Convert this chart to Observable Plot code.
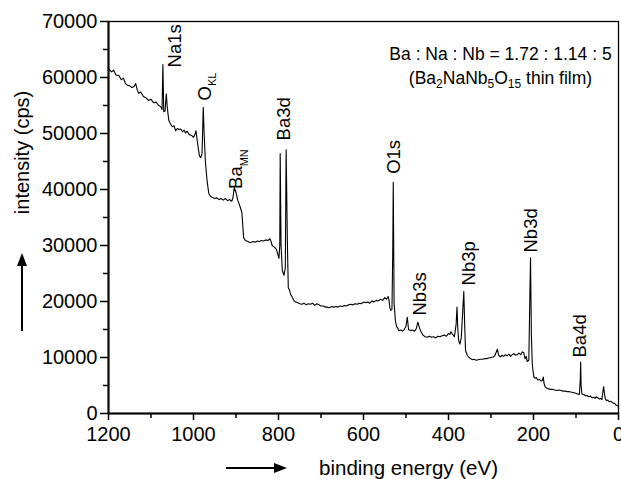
<!DOCTYPE html>
<html><head><meta charset="utf-8">
<script src="https://cdn.jsdelivr.net/npm/d3@7"></script>
<script src="https://cdn.jsdelivr.net/npm/@observablehq/plot@0.6"></script>
<style>
body{margin:0;background:#fff;}
#chart svg{display:block;}
</style>
</head><body><div id="chart"></div>
<script>
// XPS survey spectrum: binding energy (eV) and intensity (cps)
const energy = [1200,1193,1188,1182,1176,1170,1165,1160,1155,1150,1145,1140,1136,1132,1129,1124,1118,1112,1106,1100,1094,1088,1082,1077,1074,1072,1070,1067,1064,1062,1060,1058,1054,1050,1046,1042,1038,1034,1030,1026,1022,1019,1015,1010,1005,1000,996,994,990,986,983,980,977,975,972,968,964,960,956,950,945,940,935,930,925,920,915,910,907,904,900,896,892,889,886,884,882,878,872,866,860,855,850,845,840,835,830,825,820,817,815,810,805,802,799,797,796,794,791,787,784,782,779,777,774,772,768,764,760,755,750,745,740,735,730,725,720,715,710,705,700,695,690,685,680,675,670,665,660,655,650,645,640,635,630,625,620,615,610,605,600,595,590,585,580,576,570,565,560,555,550,546,542,540,538,536,533,531,530,528,526,525,522,519,517,512,508,505,500,497,494,490,485,480,476,472,468,464,460,455,450,445,440,435,430,425,420,415,410,405,400,397,394,391,388,386,382,380,378,376,373,370,366,364,362,360,356,352,348,344,340,335,330,325,320,315,310,305,300,295,291,288,285,282,278,274,270,266,262,258,254,250,246,242,238,234,230,226,223,220,217,215,211,209,207,205,203,201,199,196,193,190,186,182,179,177,175,172,168,164,160,155,150,145,140,135,130,125,120,115,110,105,100,96,92,90,89,88,86,82,78,74,70,66,62,58,55,52,49,45,42,39,37,35,33,31,28,25,22,18,15,12,9,6,3,0];
const intensity = [61600,61000,61300,60400,60400,59600,59900,58900,58600,58500,58200,58400,58900,57700,57200,57400,56600,56400,55900,56100,55500,55600,55000,54800,54300,62300,53900,54000,57100,55000,53500,52300,51700,51200,51400,50500,50900,50700,50800,50300,50600,50100,50400,49800,49700,49300,50000,50500,48000,46000,45700,46400,54700,50000,45000,41500,39300,38800,38600,38400,38500,38200,38400,38100,38400,38000,38200,37900,38600,40300,39500,38100,37300,36600,35800,33500,31400,30900,30700,30500,30700,30600,30800,30700,30900,30800,31000,30900,31200,30600,30000,29700,29300,28600,27700,30000,46400,30000,25500,24700,26000,47100,30000,22500,22000,21400,20800,20200,19900,19800,19600,19500,19700,19400,19600,19500,19700,19300,19600,19400,19200,19200,19000,19000,18900,19100,19000,19100,19000,19200,19100,19300,19200,19400,19500,19400,19600,19500,19700,19600,19900,19800,19900,19700,20100,19900,20200,20100,20400,20200,20700,20400,20900,20200,18900,18400,18600,30000,41300,19700,17700,16600,15500,15200,14800,14900,14700,14900,15600,17200,15000,14800,14900,14700,15100,16300,15200,14500,14000,13700,13600,13800,13600,13700,13500,13800,13700,13900,14000,13800,14300,14100,14600,14200,13900,13700,16000,19000,15000,13000,12400,13500,19000,21800,16000,11300,10400,10000,9800,9600,9700,9500,9600,9700,9700,9800,9800,9900,10000,10100,10300,10900,11500,10400,10100,10400,10200,10500,10300,10600,10200,10500,10700,10400,10500,10800,10500,11000,10900,9800,10200,9300,9500,19000,27800,14000,9000,7500,6500,6300,6400,6000,6100,5800,5900,6500,5300,4700,4500,4400,4300,4300,4200,4100,4200,4100,4000,4000,3900,3900,3800,3700,3600,3500,3400,6000,9200,5000,3500,3400,3200,3200,3000,3100,2800,2900,2700,3000,2800,2600,2700,2500,3800,4800,3500,2600,2300,2400,2100,2200,2000,1800,1800,1500,1400,1300];

const xTicks = [1200, 1000, 800, 600, 400, 200, 0];
const xMinorTicks = [1100, 900, 700, 500, 300, 100];
const yTicks = [0, 10000, 20000, 30000, 40000, 50000, 60000, 70000];
const yMinorTicks = [5000, 15000, 25000, 35000, 45000, 55000, 65000];

const peakNames = ["Na1s", "O", "Ba", "Ba3d", "O1s", "Nb3s", "Nb3p", "Nb3d", "Ba4d"];
const peakSubs  = ["", "KL", "MN", "", "", "", "", "", ""];
const peakLabelE = [1043, 972, 899, 786, 529, 466, 351, 205, 91];
const peakLabelI = [61800, 55900, 40100, 48760, 42800, 17500, 22860, 28750, 10000];

const noteLine1 = "Ba : Na : Nb = 1.72 : 1.14 : 5";
const noteLine2Parts = [["(Ba", 0], ["2", 1], ["NaNb", 0], ["5", 1], ["O", 0], ["15", 1], [" thin film)", 0]];
const xTitle = "binding energy (eV)";
const yTitle = "intensity (cps)";

const spectrum = energy.map((e, i) => ({e, v: intensity[i]}));
const peaks = peakNames.map((n, i) => ({text: n + peakSubs[i], name: n, sub: peakSubs[i], e: peakLabelE[i], v: peakLabelI[i]}));
const noteLine2 = noteLine2Parts.map(p => p[0]).join("");

const FONT = "'Liberation Sans', Arial, Helvetica, sans-serif";

const chart = Plot.plot({
  width: 621,
  height: 479,
  marginLeft: 108,
  marginRight: 3,
  marginTop: 21,
  marginBottom: 66,
  style: {fontFamily: FONT, background: "#fff", color: "#000", overflow: "visible"},
  x: {domain: [1200, 0], label: null},
  y: {domain: [0, 70000], label: null},
  marks: [
    Plot.frame({stroke: "#000", strokeWidth: 1.3}),
    Plot.axisX(xMinorTicks, {tickSize: 5, text: null, strokeWidth: 1.5}),
    Plot.axisX(xTicks, {tickSize: 7, tickPadding: 6, fontSize: 20, strokeWidth: 1.5, tickFormat: d => String(d), label: null}),
    Plot.axisY(yMinorTicks, {tickSize: 5, text: null, strokeWidth: 1.5}),
    Plot.axisY(yTicks, {tickSize: 8, tickPadding: 3, fontSize: 20, strokeWidth: 1.5, tickFormat: d => String(d), label: null}),
    Plot.ruleY([0], {stroke: "#000", strokeWidth: 2}),
    Plot.ruleX([1200], {stroke: "#000", strokeWidth: 2}),
    Plot.line(spectrum, {x: "e", y: "v", stroke: "#000", strokeWidth: 1.1, curve: "linear"}),
    Plot.text(peaks, {x: "e", y: "v", text: "text", rotate: -90, textAnchor: "start", lineAnchor: "middle", fontSize: 18.5, fill: "#000"}),
    Plot.text([noteLine1], {frameAnchor: "top-right", dx: -118, dy: 38, textAnchor: "middle", lineAnchor: "bottom", fontSize: 17.5, fill: "#000"}),
    Plot.text([noteLine2], {frameAnchor: "top-right", dx: -118, dy: 62, textAnchor: "middle", lineAnchor: "bottom", fontSize: 17.5, fill: "#000"}),
    Plot.text([xTitle], {frameAnchor: "bottom", dx: 45, dy: 55, textAnchor: "middle", lineAnchor: "middle", fontSize: 20.5, fill: "#000"}),
    Plot.text([yTitle], {frameAnchor: "left", dx: -86, dy: -65, rotate: -90, textAnchor: "middle", lineAnchor: "middle", fontSize: 20, fill: "#000"})
  ]
});

document.getElementById("chart").appendChild(chart);

// subscripts
const svg = d3.select(chart);
function rich(el, parts, baseSize, subSize) {
  const t = d3.select(el);
  t.text(null);
  const shift = baseSize * 0.28;
  let down = false;
  parts.forEach(([s, sub]) => {
    const ts = t.append("tspan").text(s);
    if (sub) {
      ts.attr("font-size", subSize);
      if (!down) { ts.attr("dy", shift); down = true; }
    } else if (down) { ts.attr("dy", -shift); down = false; }
  });
}
svg.selectAll("text").each(function () {
  const txt = this.textContent;
  if (txt === noteLine2) rich(this, noteLine2Parts, 17.5, 12);
  const p = peaks.find(d => d.sub && d.text === txt);
  if (p) rich(this, [[p.name, 0], [p.sub, 1]], 18.5, 11);
});

// direction arrows beside the axis titles
function arrow(x1, y1, x2, y2) {
  const dx = x2 - x1, dy = y2 - y1, L = Math.hypot(dx, dy), ux = dx / L, uy = dy / L;
  const hl = 13, hw = 5;
  const bx = x2 - ux * hl, by = y2 - uy * hl;
  svg.append("line").attr("x1", x1).attr("y1", y1).attr("x2", bx).attr("y2", by)
     .attr("stroke", "#000").attr("stroke-width", 2);
  svg.append("path")
     .attr("d", `M${x2},${y2}L${bx - uy * hw},${by + ux * hw}L${bx + uy * hw},${by - ux * hw}Z`)
     .attr("fill", "#000");
}
arrow(22, 331, 22, 253);
arrow(226, 468, 287, 468);
</script>
</body></html>
